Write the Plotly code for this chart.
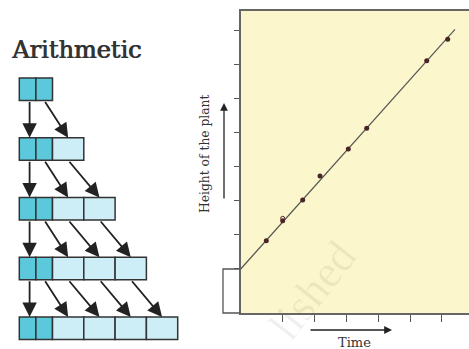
import plotly.graph_objects as go

# ---- data ----
time_points = [0.485, 1.0, 1.628, 2.171, 3.059, 3.637, 5.52, 6.179]
height_points = [1.829, 2.415, 3.02, 3.724, 4.515, 5.121, 7.101, 7.727]
open_time = [1.0]
open_height = [2.485]
line_time = [-0.318, 6.408]
line_height = [1.0, 8.02]
x_ticks = [1, 2, 3, 4, 5, 6]
y_ticks = [1, 2, 3, 4, 5, 6, 7, 8]
# arithmetic diagram: number of new (light) cells in each row
light_cells = [0, 1, 2, 3, 4]
dark_cells = 2

W, H = 469, 349
fig = go.Figure()

# main plot
fig.add_trace(go.Scatter(x=line_time, y=line_height, mode="lines",
                         line=dict(color="#555555", width=1.2),
                         xaxis="x", yaxis="y", hoverinfo="skip", showlegend=False))
fig.add_trace(go.Scatter(x=time_points, y=height_points, mode="markers",
                         marker=dict(color="#4a2525", size=5),
                         xaxis="x", yaxis="y", showlegend=False))
fig.add_trace(go.Scatter(x=open_time, y=open_height, mode="markers",
                         marker=dict(color="rgba(0,0,0,0)", size=4,
                                     line=dict(color="#4a2525", width=1)),
                         xaxis="x", yaxis="y", showlegend=False))

shapes = []
annotations = []

# yellow background of plot area
shapes.append(dict(type="rect", xref="x domain", yref="y domain", x0=0, x1=1, y0=0, y1=1,
                   fillcolor="#fcf6cc", line=dict(width=0), layer="below"))
# bracket (pixel-space overlay axes x2/y2)
shapes.append(dict(type="path", xref="x2", yref="y2",
                   path="M 240.7 269 L 223 269 L 223 313 L 240.7 313",
                   line=dict(color="#555555", width=1.3)))

# diagram geometry
row_top0, row_gap, row_h = 78.0, 59.75, 22.5
x_left, dark_w, light_w = 19.3, 16.6, 31.3
dark_fill, light_fill, edge = "#5cc8dc", "#cdeef6", "#333333"

def cell_bounds(n_light):
    b = []
    x = x_left
    for _ in range(dark_cells):
        b.append((x, x + dark_w, dark_fill))
        x += dark_w
    for _ in range(n_light):
        b.append((x, x + light_w, light_fill))
        x += light_w
    return b

def arrow(x, y, ax, ay, size=1.6, width=1.8):
    return dict(xref="x2", yref="y2", axref="x2", ayref="y2",
                x=x, y=y, ax=ax, ay=ay, text="", showarrow=True,
                arrowhead=2, arrowsize=size, arrowwidth=width, arrowcolor="#222222")

for r, nl in enumerate(light_cells):
    top = row_top0 + r * row_gap
    for (a, b, c) in cell_bounds(nl):
        shapes.append(dict(type="rect", xref="x2", yref="y2", x0=a, x1=b, y0=top, y1=top + row_h,
                           fillcolor=c, line=dict(color=edge, width=1.5)))
    if r < len(light_cells) - 1:
        cur = cell_bounds(nl)
        nxt = cell_bounds(light_cells[r + 1])
        bottom = top + row_h
        ntop = row_top0 + (r + 1) * row_gap
        cx = (cur[0][0] + cur[0][1]) / 2 + 2
        annotations.append(arrow(cx, ntop, cx, bottom))
        for j in range(1, len(cur)):
            sx = (cur[j][0] + cur[j][1]) / 2
            ex = (nxt[j + 1][0] + nxt[j + 1][1]) / 2
            annotations.append(arrow(ex, ntop, sx, bottom))

# title
annotations.append(dict(xref="x2", yref="y2", x=9, y=50, xanchor="left", yanchor="middle",
                        text="Arithmetic", showarrow=False,
                        font=dict(family="DejaVu Serif", size=24, color="#333333",
                                  shadow="0.8px 0 0 #333333")))
# axis titles
annotations.append(dict(xref="x2", yref="y2", x=205, y=154, text="Height of the plant",
                        textangle=-90, showarrow=False,
                        font=dict(family="DejaVu Serif", size=12.3, color="#333333")))
annotations.append(arrow(224, 103, 224, 200, size=1.2, width=1.3))
annotations.append(dict(xref="x2", yref="y2", x=354, y=342, text="Time",
                        showarrow=False, font=dict(family="DejaVu Serif", size=13, color="#333333")))
annotations.append(arrow(392, 330, 309, 330, size=1.2, width=1.3))
# watermark
annotations.append(dict(xref="x2", yref="y2", x=312, y=290, text="lished",
                        textangle=-52, showarrow=False,
                        font=dict(family="Liberation Serif", size=46, color="rgba(0,0,0,0.06)")))

fig.update_layout(
    width=W, height=H, margin=dict(l=0, r=0, t=0, b=0),
    paper_bgcolor="white", plot_bgcolor="rgba(0,0,0,0)",
    shapes=shapes, annotations=annotations, showlegend=False,
    xaxis=dict(domain=[240.7 / W, 1.0], range=[-0.318, 6.848], tickvals=x_ticks,
               showticklabels=False, ticks="outside", ticklen=7, tickwidth=1.2, tickcolor="#555555",
               showline=True, linecolor="#666666", linewidth=1.5, mirror=True,
               showgrid=False, zeroline=False, anchor="y"),
    yaxis=dict(domain=[1 - 313 / H, 1 - 11 / H], range=[-0.289, 8.557], tickvals=y_ticks,
               showticklabels=False, ticks="outside", ticklen=5, tickwidth=1.2, tickcolor="#555555",
               showline=True, linecolor="#666666", linewidth=1.5,
               showgrid=False, zeroline=False, anchor="x"),
    xaxis2=dict(domain=[0, 1], range=[0, W], visible=False, anchor="y2"),
    yaxis2=dict(domain=[0, 1], range=[H, 0], visible=False, anchor="x2"),
)

fig.write_html("out.html", config={"displayModeBar": False},
               post_script="document.body.style.margin='0';document.body.style.overflow='hidden';")
